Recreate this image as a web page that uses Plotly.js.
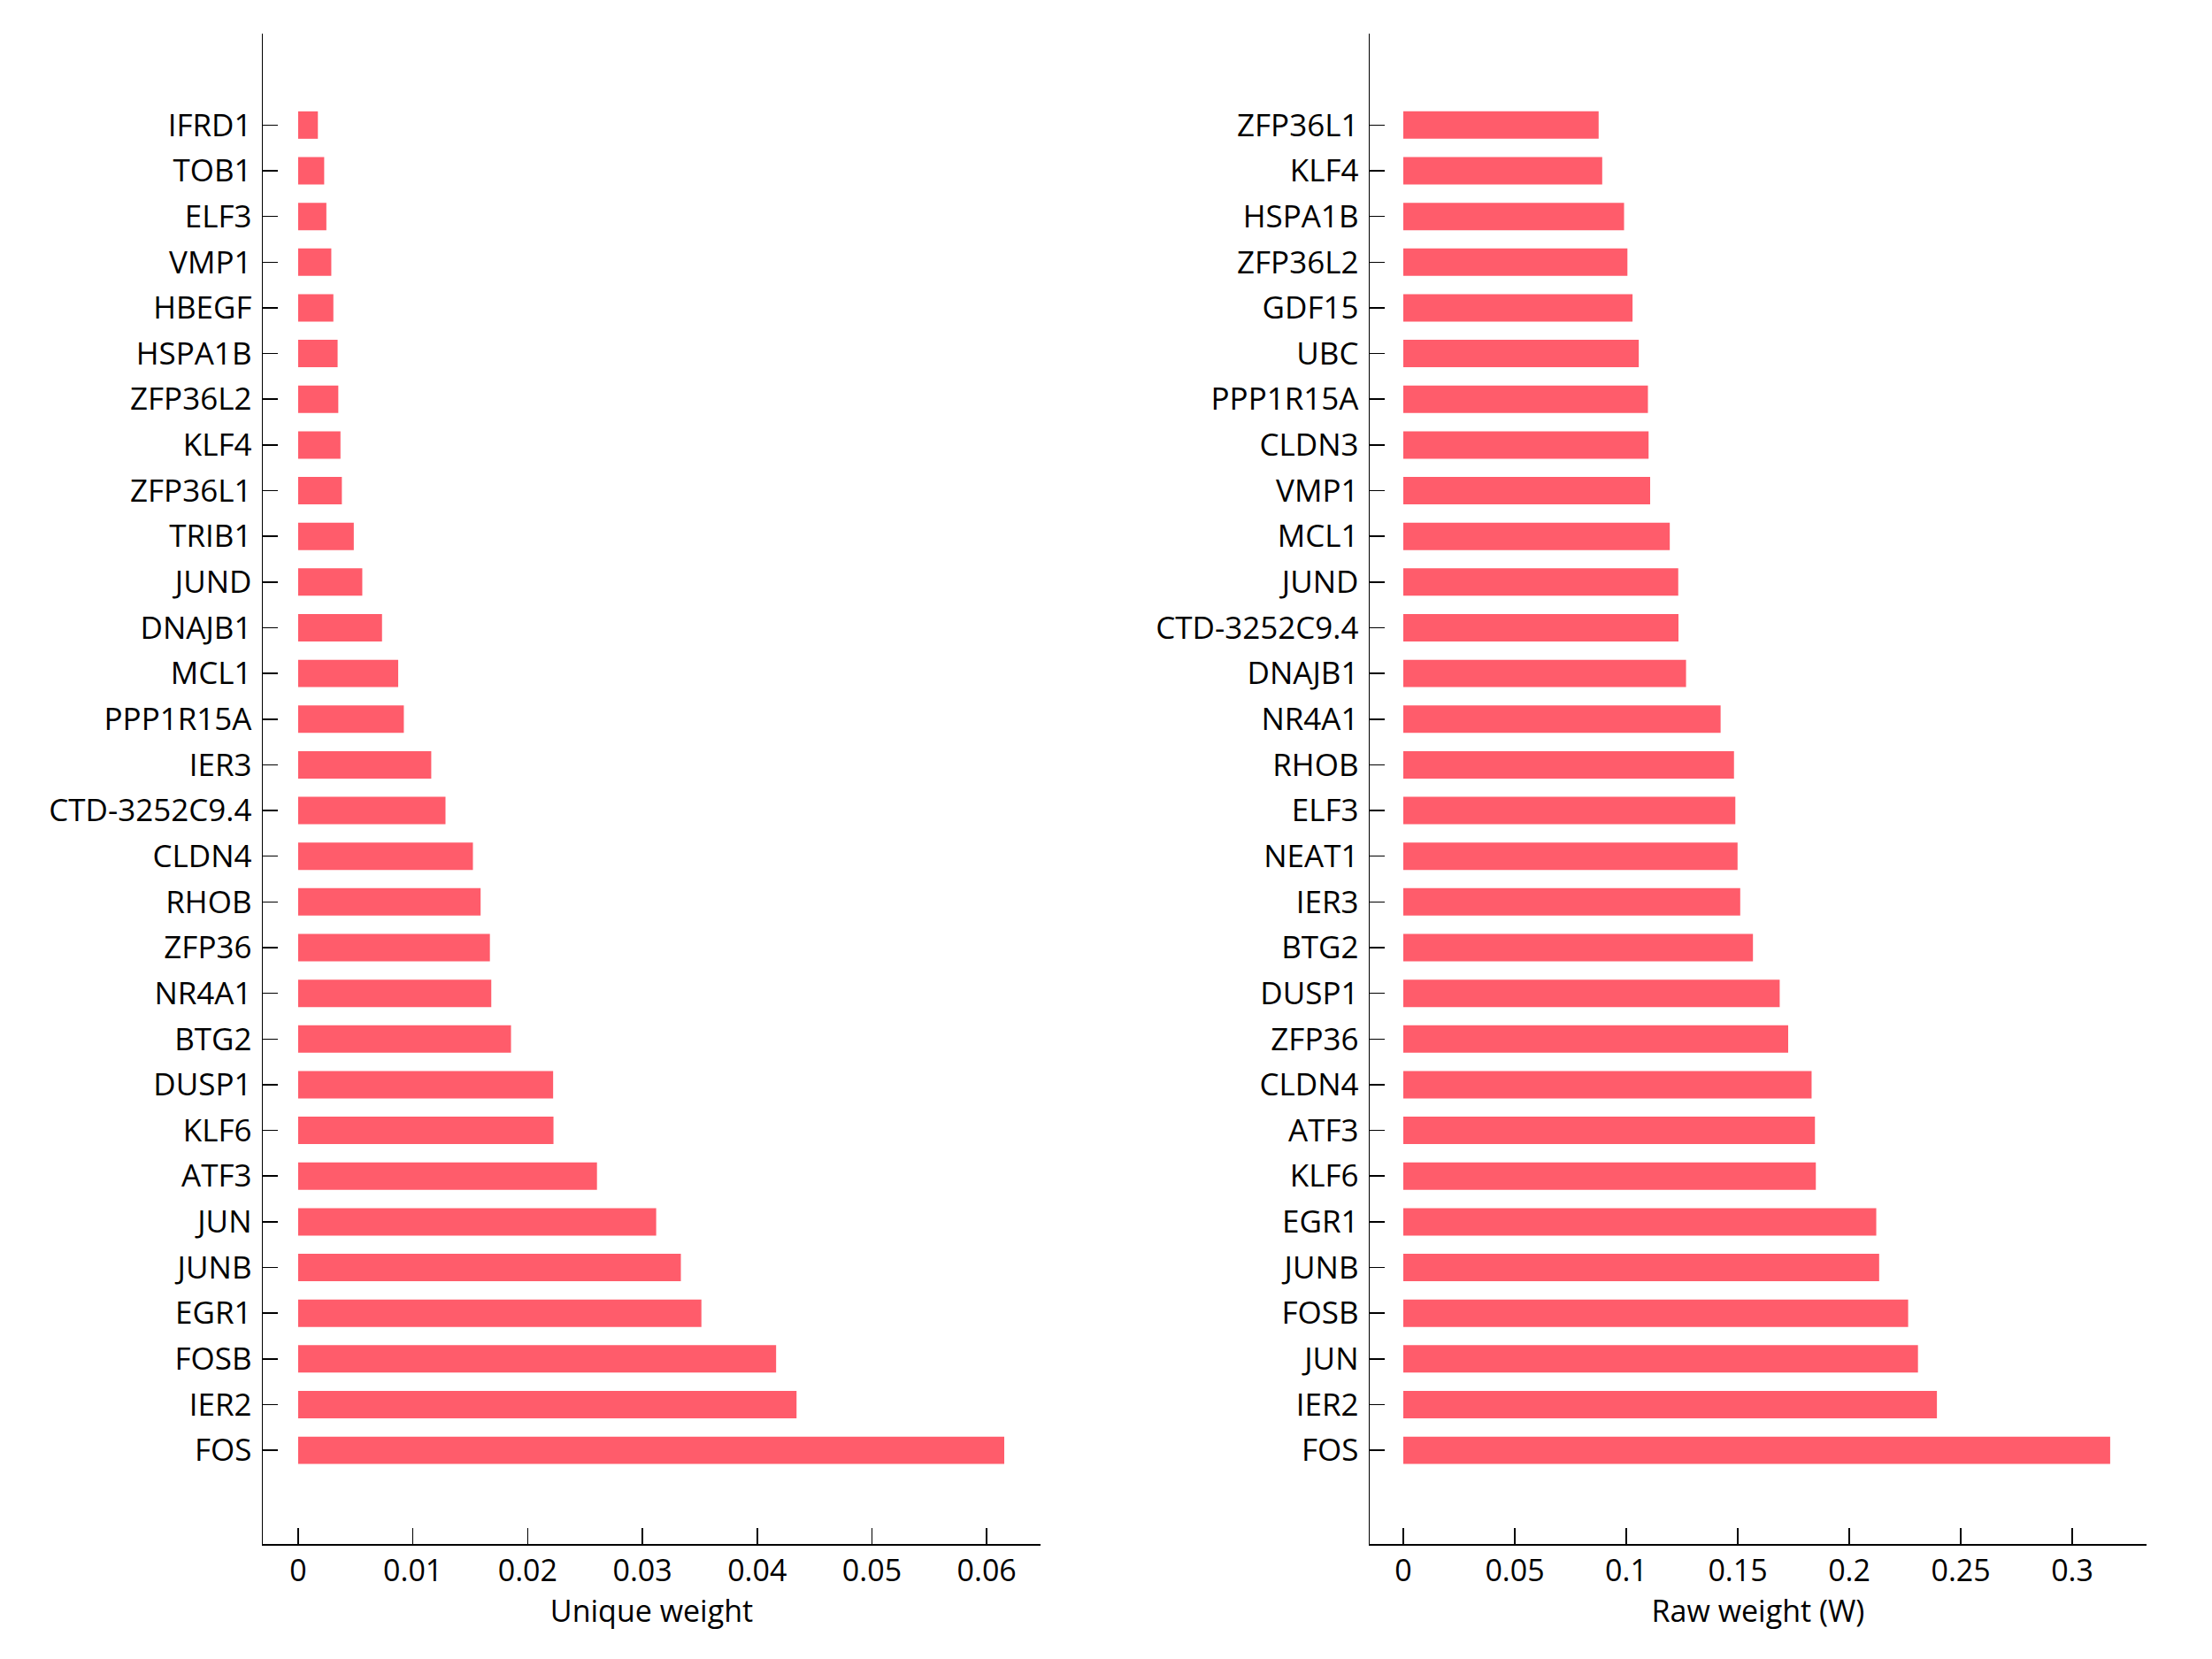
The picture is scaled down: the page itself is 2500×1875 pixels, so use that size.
<!DOCTYPE html>
<html>
<head>
<meta charset="utf-8">
<script src="https://cdn.plot.ly/plotly-3.0.1.min.js"></script>
<style>html,body{margin:0;padding:0;background:#fff;}#chart{width:2500px;height:1875px;}</style>
</head>
<body>
<div id="chart"></div>
<script>
// Left panel: genes (top to bottom) and unique weights
const uniqueGenes = ["IFRD1","TOB1","ELF3","VMP1","HBEGF","HSPA1B","ZFP36L2","KLF4","ZFP36L1","TRIB1",
  "JUND","DNAJB1","MCL1","PPP1R15A","IER3","CTD-3252C9.4","CLDN4","RHOB","ZFP36","NR4A1",
  "BTG2","DUSP1","KLF6","ATF3","JUN","JUNB","EGR1","FOSB","IER2","FOS"];
const uniqueWeights = [0.00172,0.00227,0.00246,0.00289,0.00307,0.00344,0.0035,0.00369,0.00381,0.00485,
  0.00559,0.00731,0.00872,0.00921,0.0116,0.01284,0.01523,0.0159,0.01671,0.01683,
  0.01855,0.02222,0.02225,0.02604,0.0312,0.03335,0.03514,0.04165,0.04343,0.06153];

// Right panel: genes (top to bottom) and raw weights
const rawGenes = ["ZFP36L1","KLF4","HSPA1B","ZFP36L2","GDF15","UBC","PPP1R15A","CLDN3","VMP1","MCL1",
  "JUND","CTD-3252C9.4","DNAJB1","NR4A1","RHOB","ELF3","NEAT1","IER3","BTG2","DUSP1",
  "ZFP36","CLDN4","ATF3","KLF6","EGR1","JUNB","FOSB","JUN","IER2","FOS"];
const rawWeights = [0.0876,0.0892,0.0990,0.1005,0.1028,0.1056,0.1097,0.1100,0.1107,0.1195,
  0.1233,0.1234,0.1268,0.1423,0.1483,0.1489,0.1499,0.1511,0.1568,0.1688,
  0.1726,0.1831,0.1846,0.1850,0.2121,0.2134,0.2264,0.2308,0.2393,0.3170];

const leftTicks = [0,0.01,0.02,0.03,0.04,0.05,0.06];
const leftTickText = ["0","0.01","0.02","0.03","0.04","0.05","0.06"];
const rightTicks = [0,0.05,0.1,0.15,0.2,0.25,0.3];
const rightTickText = ["0","0.05","0.1","0.15","0.2","0.25","0.3"];

const barColor = "#ff5c6b";
const FONT = {family: "Open Sans, DejaVu Sans, sans-serif", size: 34, color: "#000"};
const YFONT = {family: "Open Sans, DejaVu Sans, sans-serif", size: 35, color: "#000"};

const traces = [
  {type: "bar", orientation: "h", x: uniqueWeights, y: uniqueGenes, xaxis: "x", yaxis: "y",
   width: 0.6, marker: {color: barColor, line: {width: 0}}, hoverinfo: "x+y"},
  {type: "bar", orientation: "h", x: rawWeights, y: rawGenes, xaxis: "x2", yaxis: "y2",
   width: 0.6, marker: {color: barColor, line: {width: 0}}, hoverinfo: "x+y"}
];

function xAxis(domain, range, tv, tt, title, anchor) {
  return {domain: domain, range: range, anchor: anchor, tickmode: "array", tickvals: tv, ticktext: tt,
    ticks: "inside", ticklen: 18, tickwidth: 1.5, tickcolor: "#000",
    showline: true, linecolor: "#000", linewidth: 1.5, mirror: false,
    showgrid: false, zeroline: false, tickfont: FONT, ticklabelstandoff: 0,
    title: {text: title, font: FONT, standoff: 4}, automargin: false};
}
function yAxis(cats, anchor) {
  return {domain: [0.06933, 0.9797], anchor: anchor, type: "category",
    categoryorder: "array", categoryarray: cats, range: [31.05, -2.0],
    ticks: "inside", ticklen: 17, tickwidth: 1.5, tickcolor: "#000",
    showline: true, linecolor: "#000", linewidth: 1.5, mirror: false,
    showgrid: false, zeroline: false, tickfont: YFONT, ticklabelstandoff: 4, automargin: false};
}

const layout = {
  width: 2500, height: 1875,
  margin: {l: 0, r: 0, t: 0, b: 0},
  paper_bgcolor: "#fff", plot_bgcolor: "#fff",
  showlegend: false, bargap: 0.4,
  font: FONT,
  xaxis: xAxis([0.1188, 0.4704], [-0.00308, 0.06469], leftTicks, leftTickText, "Unique weight", "y"),
  yaxis: yAxis(uniqueGenes, "x"),
  xaxis2: xAxis([0.6192, 0.9704], [-0.01508, 0.3333], rightTicks, rightTickText, "Raw weight (W)", "y2"),
  yaxis2: yAxis(rawGenes, "x2")
};

Plotly.newPlot("chart", traces, layout, {displayModeBar: false, staticPlot: true});
</script>
</body>
</html>
